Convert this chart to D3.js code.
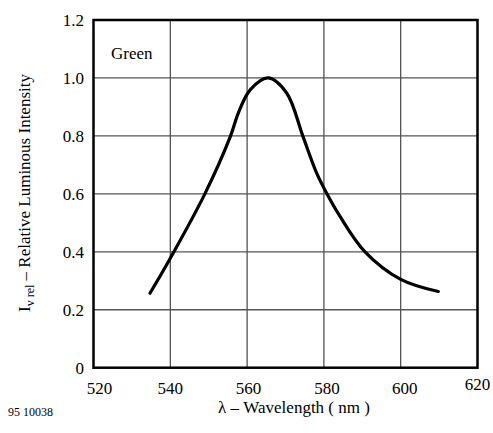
<!DOCTYPE html>
<html><head><meta charset="utf-8">
<script src="https://cdn.jsdelivr.net/npm/d3@7"></script>
<style>body{margin:0;background:#fff}</style>
</head><body><svg id="c" width="493" height="433" font-family="'Liberation Serif', 'Times New Roman', serif"></svg>
<script>
const wavelength = [534.7,540,549,555.7,557.7,560.8,565.5,570.3,574.5,578,581,584.2,590.7,600,609.8];
const intensity  = [0.257,0.378,0.60,0.80,0.879,0.959,1.0,0.948,0.80,0.675,0.595,0.522,0.40,0.305,0.263];
const xTicks = [520,540,560,580,600,620];
const yTicks = [0,0.2,0.4,0.6,0.8,1.0,1.2];
const yTickLabels = ["0","0.2","0.4","0.6","0.8","1.0","1.2"];

const svg = d3.select("#c");
const L=93.5, R=477.5, T=20, B=367.7;
const x = d3.scaleLinear().domain([520,620]).range([L,R]);
const y = d3.scaleLinear().domain([0,1.2]).range([B,T]);

svg.append("g").selectAll("line").data(xTicks.slice(1,-1)).join("line")
  .attr("x1",d=>x(d)).attr("x2",d=>x(d)).attr("y1",T).attr("y2",B)
  .attr("stroke","#444").attr("stroke-width",1.2);
svg.append("g").selectAll("line").data(yTicks.slice(1,-1)).join("line")
  .attr("y1",d=>y(d)).attr("y2",d=>y(d)).attr("x1",L).attr("x2",R)
  .attr("stroke","#555").attr("stroke-width",1.3);

svg.append("rect").attr("x",L).attr("y",T).attr("width",R-L).attr("height",B-T)
  .attr("fill","none").attr("stroke","#000").attr("stroke-width",2.5);

const pts = wavelength.map((w,i)=>[w,intensity[i]]);
svg.append("path").datum(pts)
  .attr("d", d3.line().x(d=>x(d[0])).y(d=>y(d[1])).curve(d3.curveCatmullRom.alpha(0.5)))
  .attr("fill","none").attr("stroke","#000").attr("stroke-width",3.2).attr("stroke-linecap","round");

svg.append("g").selectAll("text").data(yTicks).join("text")
  .attr("x",84).attr("y",d=>y(d)).attr("dy","0.36em").attr("text-anchor","end")
  .attr("font-size",17).text((d,i)=>yTickLabels[i]);

const xOff = {520:6,540:0,560:1.5,580:3,600:4,620:0};
const yOff = {620:-4};
svg.append("g").selectAll("text").data(xTicks).join("text")
  .attr("x",d=>x(d)+(xOff[d]||0)).attr("y",d=>394+(yOff[d]||0)).attr("text-anchor","middle")
  .attr("font-size",17).text(d=>d);

svg.append("text").attr("x",111).attr("y",59).attr("font-size",17).text("Green");

svg.append("text").attr("x",294).attr("y",413).attr("text-anchor","middle").attr("font-size",17)
  .text("λ – Wavelength ( nm )");

svg.append("text").attr("x",8).attr("y",416).attr("font-size",12).text("95 10038");

const yt = svg.append("text").attr("transform","translate(30,193) rotate(-90)")
  .attr("text-anchor","middle").attr("font-size",17);
yt.append("tspan").text("I");
yt.append("tspan").attr("font-size",12).attr("dy",4).text("v rel");
yt.append("tspan").attr("dy",-4).text("  – Relative Luminous Intensity");
</script></body></html>
